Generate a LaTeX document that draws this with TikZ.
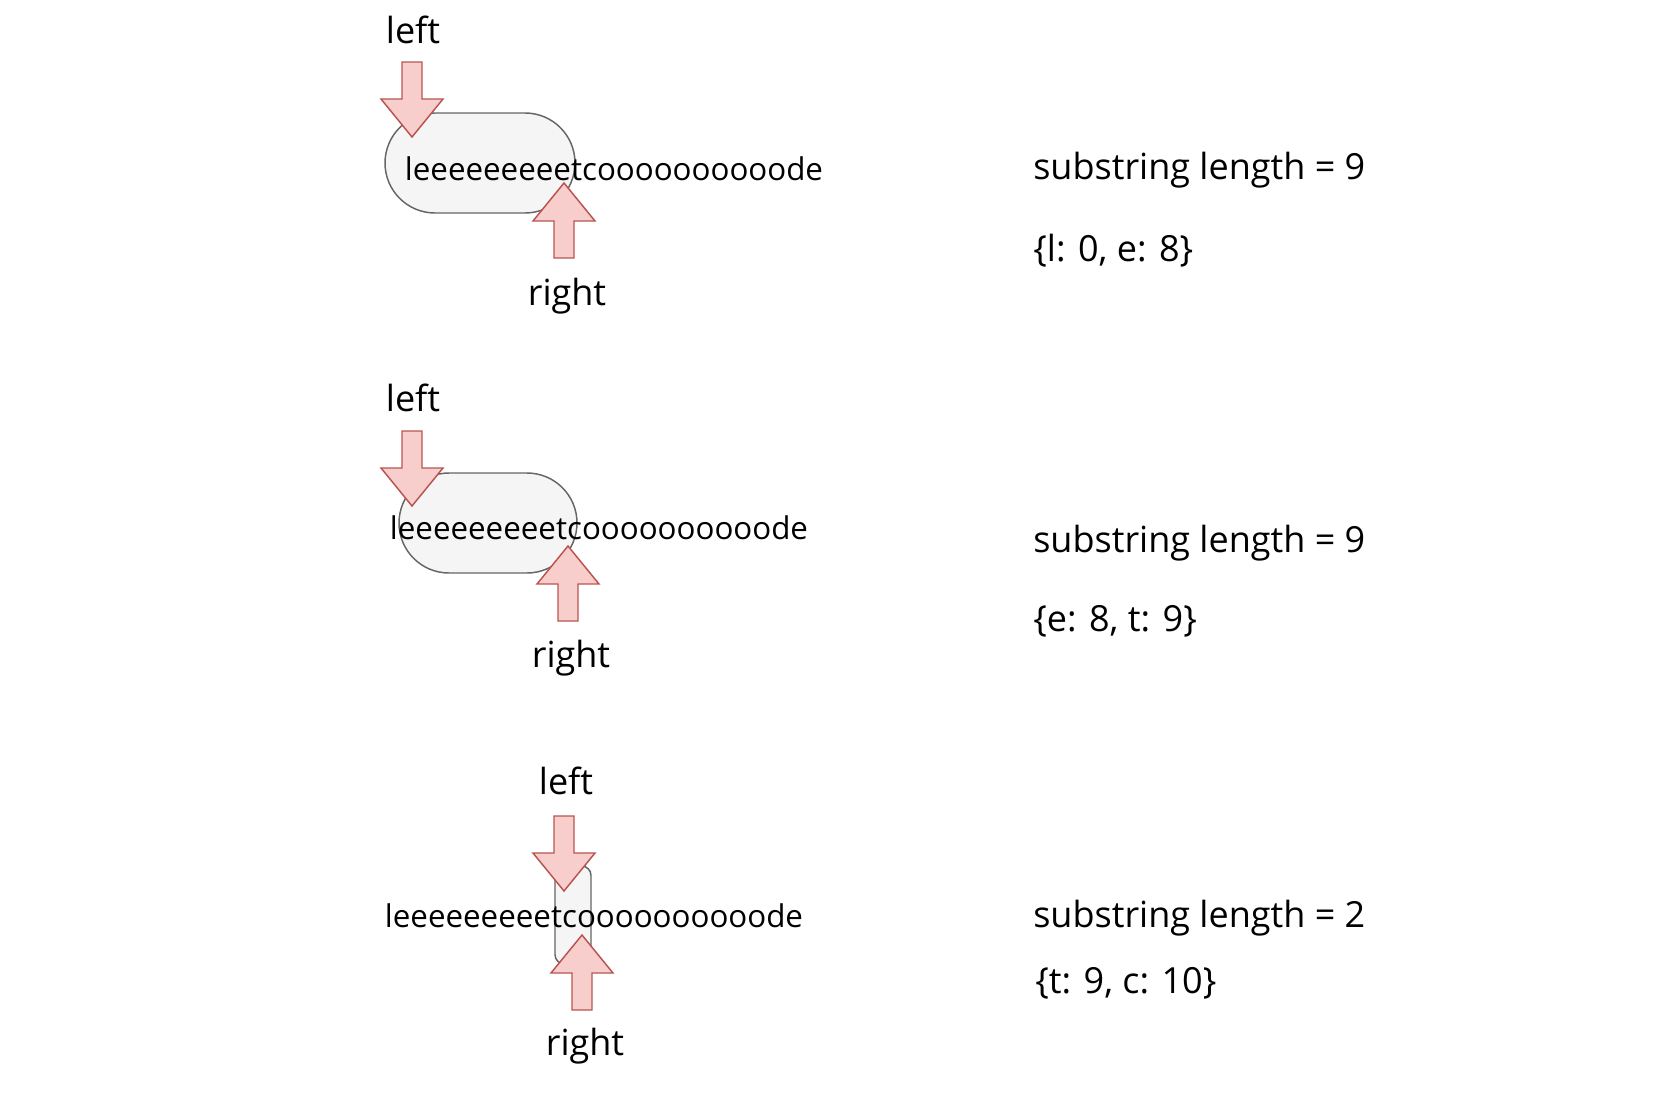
\documentclass[tikz,border=0pt]{standalone}
\usepackage{fontspec}
\setmainfont{Open Sans}
\definecolor{ptrfill}{HTML}{F8CECC}
\definecolor{ptrline}{HTML}{B85450}
\definecolor{pillfill}{HTML}{F5F5F5}
\definecolor{pillline}{HTML}{666666}
\tikzset{
  txt/.style={inner sep=0pt, font=\fontsize{23.5}{28}\selectfont},
  lbl/.style={inner sep=0pt, font=\fontsize{27}{32}\selectfont},
  pill/.style={draw=pillline, fill=pillfill, line width=1.1pt, inner sep=0pt},
  ptr/.style={draw=ptrline, fill=ptrfill, line width=1.1pt, line join=miter},
  ptrdown/.pic={\draw[ptr] (-10,-75) -- (10,-75) -- (10,-38) -- (31,-38) -- (0,0) -- (-31,-38) -- (-10,-38) -- cycle;},
  ptrup/.pic={\draw[ptr] (-10,75) -- (10,75) -- (10,38) -- (31,38) -- (0,0) -- (-31,38) -- (-10,38) -- cycle;},
}
\begin{document}
\begin{tikzpicture}[x=0.75pt, y=-0.75pt]
\useasboundingbox (0,0) rectangle (1674,1117);

% ---------- panel 1 ----------
\node[pill, rounded corners=37.5pt, minimum width=142.5pt, minimum height=75pt] (pillA) at (480,163) {};
\node[txt, anchor=base] (strA) at (614,180) {leeeeeeeeetcoooooooooode};
\node[lbl, anchor=base] (leftA) at (413,43) {left};
\node[lbl, anchor=base] (rightA) at (567,305) {right};
\pic (ldA) at (412,137) {ptrdown};
\pic (ruA) at (564,183) {ptrup};
\node[lbl, anchor=base west] (lenA) at (1033,179) {substring length = 9};
\node[lbl, anchor=base west] (mapA) at (1033,261) {\{l: 0, e: 8\}};

% ---------- panel 2 ----------
\node[pill, rounded corners=37.5pt, minimum width=133.5pt, minimum height=75pt] (pillB) at (488,523) {};
\node[txt, anchor=base] (strB) at (599,539) {leeeeeeeeetcoooooooooode};
\node[lbl, anchor=base] (leftB) at (413,411) {left};
\node[lbl, anchor=base] (rightB) at (571,667) {right};
\pic (ldB) at (412,506) {ptrdown};
\pic (ruB) at (568,546) {ptrup};
\node[lbl, anchor=base west] (lenB) at (1033,552) {substring length = 9};
\node[lbl, anchor=base west] (mapB) at (1033,631) {\{e: 8, t: 9\}};

% ---------- panel 3 ----------
\node[pill, rounded corners=7pt, minimum width=27pt, minimum height=73.5pt] (pillC) at (573,915) {};
\node[txt, anchor=base] (strC) at (594,927) {leeeeeeeeetcoooooooooode};
\node[lbl, anchor=base] (leftC) at (566,794) {left};
\node[lbl, anchor=base] (rightC) at (585,1055) {right};
\pic (ldC) at (564,891) {ptrdown};
\pic (ruC) at (582,935) {ptrup};
\node[lbl, anchor=base west] (lenC) at (1033,927) {substring length = 2};
\node[lbl, anchor=base west] (mapC) at (1035,993) {\{t: 9, c: 10\}};
\end{tikzpicture}
\end{document}
